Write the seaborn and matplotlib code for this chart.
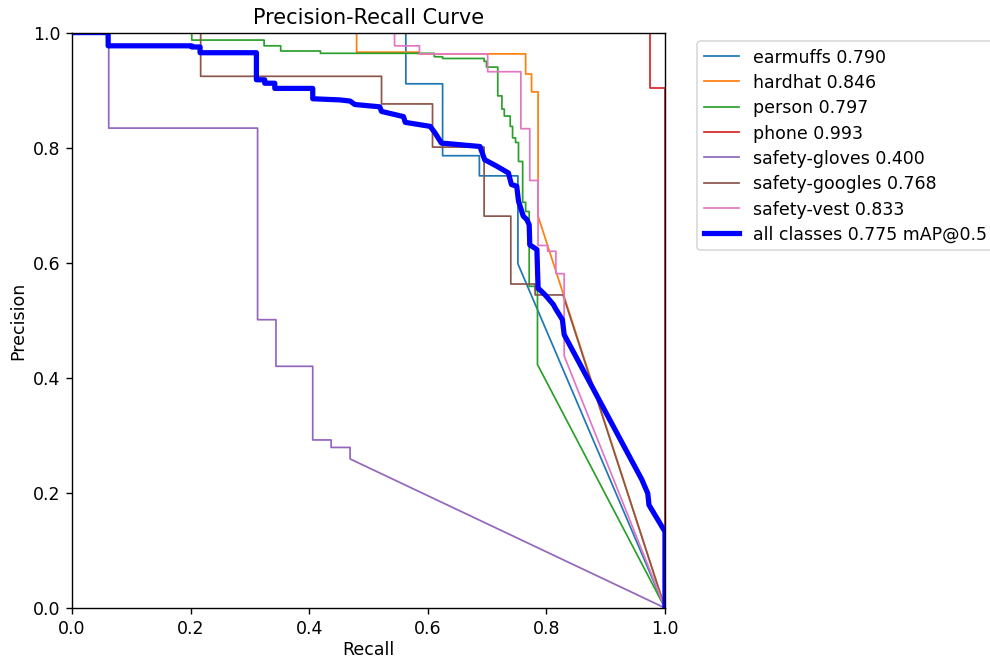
import matplotlib
matplotlib.use("Agg")
import matplotlib.pyplot as plt
import seaborn as sns

# PR curves (recall, precision corner points)
earmuffs_r = [0, 0.563, 0.563, 0.625, 0.625, 0.687, 0.687, 0.752, 0.752, 1.0]
earmuffs_p = [1, 1, 0.911, 0.911, 0.786, 0.786, 0.751, 0.751, 0.598, 0.0]

hardhat_r = [0, 0.480, 0.480, 0.585, 0.585, 0.765, 0.765, 0.775, 0.775, 0.786, 0.786, 1.0]
hardhat_p = [1, 1, 0.966, 0.966, 0.963, 0.963, 0.928, 0.928, 0.897, 0.897, 0.681, 0.0]

person_r = [0, 0.202, 0.202, 0.324, 0.324, 0.352, 0.352, 0.419, 0.419, 0.611, 0.611,
            0.625, 0.625, 0.695, 0.695, 0.699, 0.699, 0.718, 0.718, 0.725, 0.725,
            0.729, 0.729, 0.739, 0.739, 0.743, 0.743, 0.748, 0.748, 0.753, 0.753,
            0.760, 0.760, 0.765, 0.765, 0.771, 0.771, 0.781, 0.781, 0.785, 0.785, 1.0]
person_p = [1, 1, 0.987, 0.987, 0.977, 0.977, 0.968, 0.968, 0.964, 0.964, 0.958,
            0.958, 0.955, 0.955, 0.950, 0.950, 0.940, 0.940, 0.890, 0.890, 0.867,
            0.867, 0.855, 0.855, 0.837, 0.837, 0.817, 0.817, 0.809, 0.809, 0.776,
            0.776, 0.705, 0.705, 0.689, 0.689, 0.559, 0.559, 0.552, 0.552, 0.423, 0.0]

phone_r = [0, 0.975, 0.975, 1.0, 1.0]
phone_p = [1, 1, 0.903, 0.903, 0.0]

gloves_r = [0, 0.062, 0.062, 0.313, 0.313, 0.344, 0.344, 0.406, 0.406, 0.437, 0.437, 0.469, 0.469, 1.0]
gloves_p = [1, 1, 0.834, 0.834, 0.501, 0.501, 0.420, 0.420, 0.292, 0.292, 0.279, 0.279, 0.259, 0.0]

googles_r = [0, 0.217, 0.217, 0.522, 0.522, 0.608, 0.608, 0.695, 0.695, 0.740, 0.740, 0.781, 0.781, 0.828, 1.0]
googles_p = [1, 1, 0.924, 0.924, 0.876, 0.876, 0.801, 0.801, 0.681, 0.681, 0.563, 0.563, 0.544, 0.544, 0.0]

vest_r = [0, 0.544, 0.544, 0.586, 0.586, 0.701, 0.701, 0.757, 0.757, 0.772, 0.772,
          0.786, 0.786, 0.802, 0.802, 0.816, 0.816, 0.830, 0.830, 1.0]
vest_p = [1, 1, 0.977, 0.977, 0.963, 0.963, 0.932, 0.932, 0.833, 0.833, 0.743,
          0.743, 0.630, 0.630, 0.620, 0.620, 0.581, 0.581, 0.438, 0.0]

all_r = [0, 0.061, 0.061, 0.202, 0.202, 0.216, 0.216, 0.311, 0.311, 0.325, 0.325,
         0.342, 0.342, 0.406, 0.406, 0.452, 0.469, 0.477, 0.519, 0.522, 0.559,
         0.562, 0.604, 0.612, 0.623, 0.688, 0.696, 0.716, 0.736, 0.741, 0.750,
         0.753, 0.761, 0.767, 0.771, 0.772, 0.784, 0.786, 0.798, 0.812, 0.815,
         0.827, 0.830, 0.961, 0.971, 0.973, 0.998, 1.0, 1.0]
all_p = [1, 1, 0.977, 0.977, 0.975, 0.975, 0.965, 0.965, 0.918, 0.918, 0.912,
         0.912, 0.903, 0.903, 0.885, 0.883, 0.881, 0.875, 0.871, 0.863, 0.854,
         0.844, 0.837, 0.826, 0.808, 0.802, 0.779, 0.768, 0.756, 0.736, 0.733,
         0.707, 0.681, 0.675, 0.666, 0.631, 0.623, 0.556, 0.544, 0.527, 0.521,
         0.501, 0.475, 0.223, 0.199, 0.179, 0.136, 0.135, 0.0]

names = ['earmuffs', 'hardhat', 'person', 'phone', 'safety-gloves', 'safety-googles', 'safety-vest']
ap = [0.790, 0.846, 0.797, 0.993, 0.400, 0.768, 0.833]
map50 = 0.775

curves = [(earmuffs_r, earmuffs_p), (hardhat_r, hardhat_p), (person_r, person_p),
          (phone_r, phone_p), (gloves_r, gloves_p), (googles_r, googles_p), (vest_r, vest_p)]

# reference is rendered a bit larger than plain 110 dpi
k = 1.14
plt.rcParams['font.size'] = 10 * k
plt.rcParams['axes.linewidth'] = 0.8 * k
plt.rcParams['xtick.major.width'] = 0.8 * k
plt.rcParams['ytick.major.width'] = 0.8 * k
plt.rcParams['xtick.major.size'] = 3.5 * k
plt.rcParams['ytick.major.size'] = 3.5 * k

fig = plt.figure(figsize=(9, 5.995), dpi=110)
ax = fig.add_axes([0.0727, 0.0774, 0.599, 0.8725])

for i, (r, p) in enumerate(curves):
    sns.lineplot(x=r, y=p, ax=ax, sort=False, estimator=None, color=f'C{i}',
                 linewidth=1 * k, label=f'{names[i]} {ap[i]:.3f}')

sns.lineplot(x=all_r, y=all_p, ax=ax, sort=False, estimator=None, color='blue',
             linewidth=3 * k, label=f'all classes {map50:.3f} mAP@0.5')

ax.set_xlabel('Recall', labelpad=2)
ax.set_ylabel('Precision')
ax.set_xlim(0, 1)
ax.set_ylim(0, 1)
ax.legend(bbox_to_anchor=(1.04, 1), loc='upper left', labelspacing=0.42)
ax.set_title('Precision-Recall Curve')

fig.savefig('out.png', dpi=110)
